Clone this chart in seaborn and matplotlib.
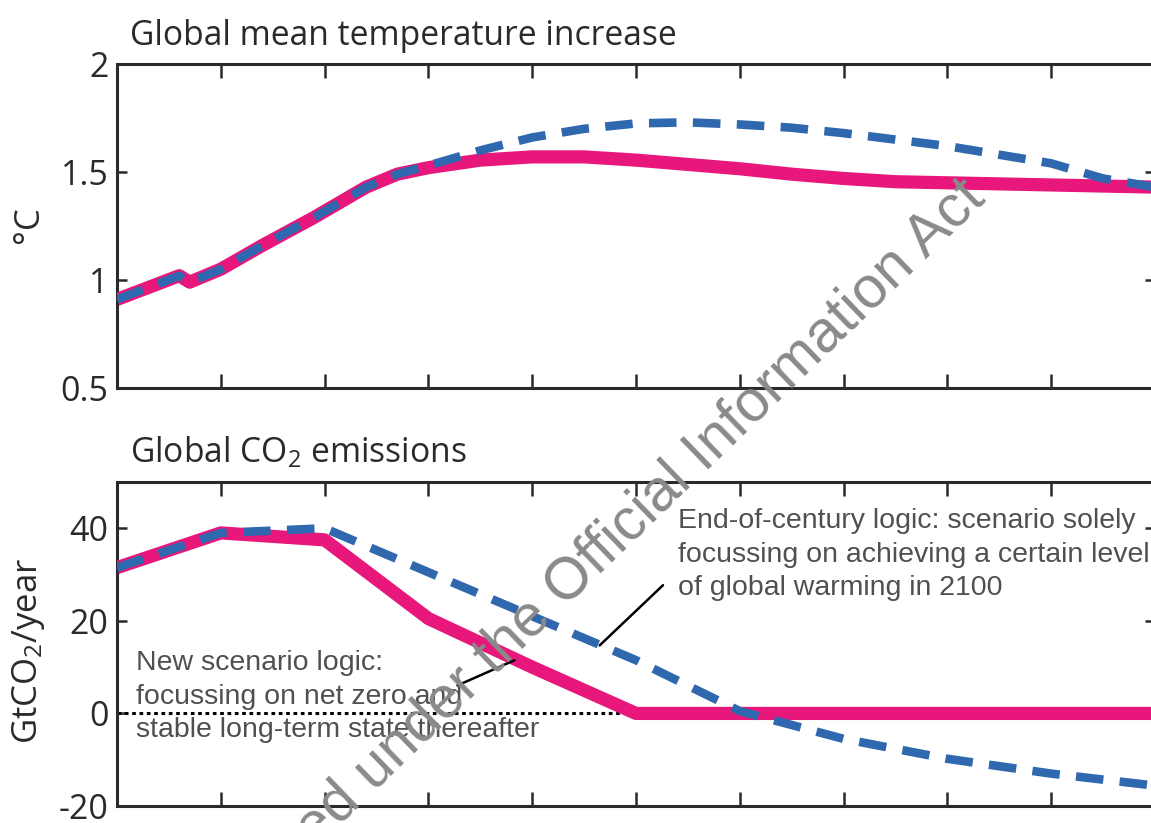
import matplotlib
matplotlib.use("Agg")
import matplotlib.pyplot as plt
import seaborn as sns
import pandas as pd

# ---- data -------------------------------------------------------------
# Global mean temperature increase (°C)
temp_years_new = [2000, 2006, 2007, 2010, 2014, 2019, 2024, 2027, 2030, 2035,
                  2040, 2045, 2050, 2055, 2060, 2065, 2070, 2075, 2080, 2090, 2100]
temp_new = [0.91, 1.02, 0.99, 1.05, 1.16, 1.29, 1.43, 1.49, 1.52, 1.555,
            1.57, 1.57, 1.555, 1.535, 1.515, 1.49, 1.47, 1.455, 1.45, 1.44, 1.43]

temp_years_eoc = [2000, 2006, 2007, 2010, 2014, 2019, 2024, 2027, 2030, 2035,
                  2040, 2045, 2050, 2055, 2060, 2065, 2070, 2075, 2080, 2085,
                  2090, 2095, 2100]
temp_eoc = [0.91, 1.02, 0.99, 1.05, 1.16, 1.29, 1.43, 1.49, 1.53, 1.60,
            1.66, 1.70, 1.725, 1.73, 1.72, 1.705, 1.68, 1.65, 1.62, 1.58,
            1.54, 1.47, 1.43]

# Global CO2 emissions (GtCO2/year)
co2_years_new = [2000, 2010, 2020, 2030, 2040, 2050, 2100]
co2_new = [31.5, 39, 37.5, 20.5, 10, 0, 0]

co2_years_eoc = [2000, 2010, 2020, 2030, 2040, 2050, 2060, 2070, 2080, 2090, 2100]
co2_eoc = [31.5, 39, 40, 30.5, 21, 11.5, 0.5, -5.5, -9.8, -13, -15.6]

temp_ticks = [0.5, 1, 1.5, 2]
temp_ticklabels = ["0.5", "1", "1.5", "2"]
co2_ticks = [-20, 0, 20, 40]
co2_ticklabels = ["-20", "0", "20", "40"]
year_ticks = list(range(2000, 2101, 10))

# ---- style ------------------------------------------------------------
sns.set_theme(style="white")
plt.rcParams["font.family"] = ["Open Sans", "DejaVu Sans"]
plt.rcParams["mathtext.fontset"] = "custom"
plt.rcParams["mathtext.rm"] = "Open Sans"
plt.rcParams["mathtext.it"] = "Open Sans"
plt.rcParams["mathtext.bf"] = "Open Sans"

MAGENTA = "#E8177B"
BLUE = "#2F68AE"
INK = "#2a2a2a"
NOTE = "#505050"

W, H = 1151, 823
fig = plt.figure(figsize=(W / 100, H / 100), dpi=100)


def box(left, top, right, bottom):
    return [left / W, 1 - bottom / H, (right - left) / W, (bottom - top) / H]


ax_t = fig.add_axes(box(117, 64, 1155, 388))
ax_c = fig.add_axes(box(117, 482, 1155, 806))

temp_df_new = pd.DataFrame({"year": temp_years_new, "value": temp_new})
temp_df_eoc = pd.DataFrame({"year": temp_years_eoc, "value": temp_eoc})
co2_df_new = pd.DataFrame({"year": co2_years_new, "value": co2_new})
co2_df_eoc = pd.DataFrame({"year": co2_years_eoc, "value": co2_eoc})

for ax, new_df, eoc_df in [(ax_t, temp_df_new, temp_df_eoc),
                           (ax_c, co2_df_new, co2_df_eoc)]:
    sns.lineplot(data=new_df, x="year", y="value", ax=ax, color=MAGENTA,
                 lw=9.5, solid_capstyle="butt", solid_joinstyle="round", zorder=3)
    ln = sns.lineplot(data=eoc_df, x="year", y="value", ax=ax, color=BLUE,
                      lw=6.2, zorder=4).lines[-1]
    ln.set_dashes((3.2, 1.9))
    ln.set_dash_capstyle("butt")

# zero line up to net zero
ax_c.plot([2000, 2050], [0, 0], color="black", lw=2.2, ls=(0, (1.2, 1.2)), zorder=2)

ax_t.set_ylim(0.5, 2)
ax_c.set_ylim(-20, 50)
for ax, ticks, labels in [(ax_t, temp_ticks, temp_ticklabels),
                          (ax_c, co2_ticks, co2_ticklabels)]:
    ax.set_xlim(2000, 2100)
    ax.set_xticks(year_ticks)
    ax.set_xticklabels([])
    ax.set_yticks(ticks)
    ax.set_yticklabels(labels)
    ax.set_xlabel("")
    ax.set_ylabel("")
    ax.tick_params(axis="x", direction="in", top=True, bottom=True,
                   length=10, width=1.8, color=INK)
    ax.tick_params(axis="y", direction="in", left=True, right=True,
                   length=7, width=1.8, color=INK, labelsize=24.5,
                   labelcolor=INK, pad=6)
    for s in ax.spines.values():
        s.set_color(INK)
        s.set_linewidth(2.2)
    ax.set_facecolor("none")

# titles and axis labels
fig.text(130 / W, 1 - 45 / H, "Global mean temperature increase",
         fontsize=24.2, color=INK, va="baseline", ha="left")
fig.text(130 / W, 1 - 462 / H, "Global CO$_2$ emissions",
         fontsize=24.2, color=INK, va="baseline", ha="left")
fig.text(29 / W, 1 - 225 / H, "°C", rotation=90, fontsize=25, color=INK,
         ha="center", va="center")
fig.text(29 / W, 1 - 651 / H, "GtCO$_2$/year", rotation=90, fontsize=25,
         color=INK, ha="center", va="center")

# scenario annotations
note_kw = dict(family=["Liberation Sans", "DejaVu Sans"], fontsize=20.5,
               color=NOTE, linespacing=1.37)
ax_c.text(2001.8, 13.6, "New scenario logic:\nfocussing on net zero and\n"
          "stable long-term state thereafter", va="top", ha="left", **note_kw)
ax_c.text(2054.0, 44.3, "End-of-century logic: scenario solely\n"
          "focussing on achieving a certain level\nof global warming in 2100",
          va="top", ha="left", **note_kw)
ax_c.plot([2032.8, 2038.3], [6.05, 11.5], color="black", lw=1.8, zorder=5)
ax_c.plot([2046.5, 2052.6], [14.7, 27.7], color="black", lw=1.8, zorder=5)

# release stamp across the figure
fig.text(987 / W, 1 - 200 / H, "Released under the Official Information Act",
         rotation=44, rotation_mode="anchor", ha="right", va="baseline",
         fontsize=42.3, color="#8a8a8a",
         family=["Liberation Sans", "DejaVu Sans"], zorder=10)

fig.savefig("out.png", dpi=100)
